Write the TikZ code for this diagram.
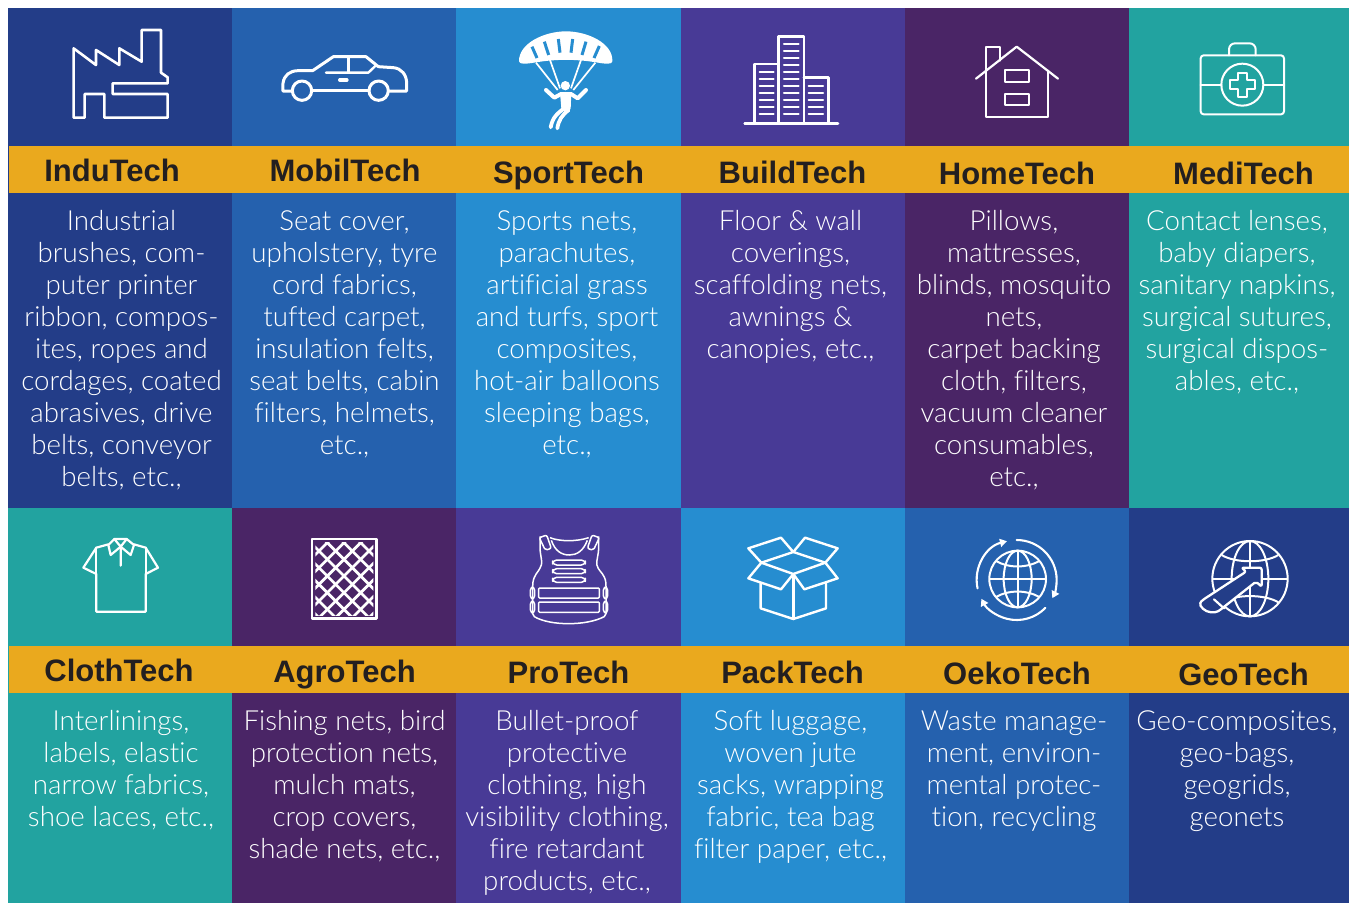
\documentclass[tikz,border=0pt]{standalone}
\usepackage{fontspec}
\usetikzlibrary{arrows.meta}
\setmainfont{Liberation Sans}
\newfontfamily\bodyfont{Lato Light}[Ligatures=NoCommon]
\newfontfamily\titlefont{Liberation Sans}[BoldFont={Liberation Sans Bold}]
\definecolor{cnavy}{HTML}{233D88}
\definecolor{cblue}{HTML}{2561AE}
\definecolor{csky}{HTML}{268DD0}
\definecolor{cindigo}{HTML}{483A96}
\definecolor{cpurple}{HTML}{4A2566}
\definecolor{cteal}{HTML}{22A3A0}
\definecolor{cgold}{HTML}{EAA91E}
\definecolor{cink}{HTML}{231F20}
\tikzset{
  titlelabel/.style={anchor=base,inner sep=0pt,text=cink,font=\titlefont\bfseries\fontsize{31}{31}\selectfont},
  bodylabel/.style={anchor=north,inner sep=0pt,text=white,align=center,font=\bodyfont\fontsize{27.7}{32}\selectfont},
  ico/.style={draw=white,line width=#1,line join=round,line cap=round},
  ico/.default=2.6pt
}
\newcommand{\fl}{\rule{0pt}{20pt}}
\begin{document}
\begin{tikzpicture}[x=1pt,y=-1pt]
\useasboundingbox (0,0) rectangle (1349,903);
% panels
\fill[cnavy] (8,8) rectangle (232,508);
\fill[cblue] (232,8) rectangle (456,508);
\fill[csky] (456,8) rectangle (681,508);
\fill[cindigo] (681,8) rectangle (905,508);
\fill[cpurple] (905,8) rectangle (1129,508);
\fill[cteal] (1129,8) rectangle (1349,508);
\fill[cteal] (8,508) rectangle (232,903);
\fill[cpurple] (232,508) rectangle (456,903);
\fill[cindigo] (456,508) rectangle (681,903);
\fill[csky] (681,508) rectangle (905,903);
\fill[cblue] (905,508) rectangle (1129,903);
\fill[cnavy] (1129,508) rectangle (1349,903);
\fill[cgold] (9,146) rectangle (1349,193);
\fill[cgold] (9,646) rectangle (1349,693);
% titles
\node[titlelabel] (t1) at (112,181) {InduTech};
\node[titlelabel] (t2) at (345,181) {MobilTech};
\node[titlelabel] (t3) at (568.5,183) {SportTech};
\node[titlelabel] (t4) at (792.5,183) {BuildTech};
\node[titlelabel] (t5) at (1017,184) {HomeTech};
\node[titlelabel] (t6) at (1243.5,184) {MediTech};
\node[titlelabel] (t7) at (119,681) {ClothTech};
\node[titlelabel] (t8) at (344.5,682) {AgroTech};
\node[titlelabel] (t9) at (568.5,683) {ProTech};
\node[titlelabel] (t10) at (792.5,683) {PackTech};
\node[titlelabel] (t11) at (1017,684) {OekoTech};
\node[titlelabel] (t12) at (1243.5,685) {GeoTech};
% bodies
\node[bodylabel] (b1) at (121.5,210.5) {\fl Industrial\\brushes, com-\\puter printer\\ribbon, compos-\\ites, ropes and\\cordages, coated\\abrasives, drive\\belts, conveyor\\belts, etc.,};
\node[bodylabel] (b2) at (344.5,210.5) {\fl Seat cover,\\upholstery, tyre\\cord fabrics,\\tufted carpet,\\insulation felts,\\seat belts, cabin\\filters, helmets,\\etc.,};
\node[bodylabel] (b3) at (567,210.5) {\fl Sports nets,\\parachutes,\\artificial grass\\and turfs, sport\\composites,\\hot-air balloons\\sleeping bags,\\etc.,};
\node[bodylabel] (b4) at (790.5,210.5) {\fl Floor \& wall\\coverings,\\scaffolding nets,\\awnings \&\\canopies, etc.,};
\node[bodylabel] (b5) at (1014,210.5) {\fl Pillows,\\mattresses,\\blinds, mosquito\\nets,\\carpet backing\\cloth, filters,\\vacuum cleaner\\consumables,\\etc.,};
\node[bodylabel] (b6) at (1237,210.5) {\fl Contact lenses,\\baby diapers,\\sanitary napkins,\\surgical sutures,\\surgical dispos-\\ables, etc.,};
\node[bodylabel] (b7) at (121,710.5) {\fl Interlinings,\\labels, elastic\\narrow fabrics,\\shoe laces, etc.,};
\node[bodylabel] (b8) at (344.5,710.5) {\fl Fishing nets, bird\\protection nets,\\mulch mats,\\crop covers,\\shade nets, etc.,};
\node[bodylabel] (b9) at (567,710.5) {\fl Bullet-proof\\protective\\clothing, high\\visibility clothing,\\fire retardant\\products, etc.,};
\node[bodylabel] (b10) at (790.5,710.5) {\fl Soft luggage,\\woven jute\\sacks, wrapping\\fabric, tea bag\\filter paper, etc.,};
\node[bodylabel] (b11) at (1014,710.5) {\fl Waste manage-\\ment, environ-\\mental protec-\\tion, recycling};
\node[bodylabel] (b12) at (1237,710.5) {\fl Geo-composites,\\geo-bags,\\geogrids,\\geonets};
% factory
\begin{scope}[shift={(0,0)},scale=1/3]
\draw[ico] (221,145)--(288,195)--(288,150)--(358,195)--(358,145)--(425,185)--(425,90)--(483,90)--(483,218)--(503,232)--(503,250)--(338,250)--(338,282)--(503,282)--(503,353)--(313,353)--(313,282)--(254,282)--(254,353)--(221,353)--cycle;
% car
\draw[ico=3pt] (875,273)--(849,273)--(849,250) .. controls (852,225) and (870,212) .. (895,212)--(938,212)--(1000,170)--(1098,170)--(1135,200)--(1180,203) .. controls (1205,205) and (1220,225) .. (1220,250)--(1220,273)--(1165,273);
\draw[ico=3pt] (1107,271)--(937,271);
\draw[ico=3pt] (906,272) circle[radius=29];
\draw[ico=3pt] (1136,272) circle[radius=29];
\draw[ico=2.4pt] (978,218)--(1105,218)--(1127,197);
\draw[ico=2.4pt] (1045,172)--(1045,218);
\draw[ico=3.2pt] (1019,240)--(1041,240);
\end{scope}
% parachute, buildings
\begin{scope}[shift={(456,0)},scale=1/3]
\fill[white] (189,184) .. controls (188,130) and (265,94) .. (330,94) .. controls (395,94) and (472,130) .. (469,184) .. controls (468,194) and (450,192) .. (420,187) .. controls (360,177) and (300,177) .. (240,187) .. controls (210,192) and (190,194) .. (189,184) -- cycle;
\foreach \xa/\ya/\xb/\yb in {228/140/243/174,265/125/278/165,307/117/312/158,350/117/345/158,390/125/378/165,430/138/414/174}
  \draw[csky,line width=3pt] (\xa,\ya)--(\xb,\yb);
\foreach \xa/\ya/\xb/\yb in {240/188/305/270,282/180/312/265,375/180/345/265,418/188/352/270}
  \draw[white,line width=1.7pt] (\xa,\ya)--(\xb,\yb);
\fill[white] (328,257) circle[radius=14];
\draw[ico=4pt] (270,270)--(295,293)--(315,282)--(345,282)--(365,295)--(390,270);
\fill[white] (312,278)--(346,278)--(344,325)--(330,340)--(316,325)--cycle;
\draw[ico=3.8pt] (328,322) .. controls (305,340) and (290,350) .. (284,382);
\draw[ico=3.8pt] (338,330) .. controls (318,345) and (308,360) .. (304,385);
\draw[ico] (866,371)--(1146,371);
\draw[ico] (895,371)--(895,192)--(968,192);
\draw[ico] (968,371)--(968,110)--(1044,110)--(1044,371);
\draw[ico] (1044,233)--(1117,233)--(1117,371);
\foreach \y in {215,236,...,341} \draw[ico=2.1pt] (911,\y)--(953,\y);
\foreach \y in {131,152,...,341} \draw[ico=2.1pt] (984,\y)--(1028,\y);
\foreach \y in {257,278,...,341} \draw[ico=2.1pt] (1058,\y)--(1101,\y);
\end{scope}
% house, medkit
\begin{scope}[shift={(900,0)},scale=1/3]
\draw[ico=2.2pt] (228,236)--(350,140)--(474,236);
\draw[ico=2.2pt] (258,212)--(258,352)--(445,352)--(445,212);
\draw[ico=2.2pt] (258,212)--(258,140)--(299,140)--(299,182);
\draw[ico=2.2pt] (315,211) rectangle (388,247);
\draw[ico=2.2pt] (315,281) rectangle (388,316);
\draw[ico=2pt,rounded corners=3pt] (902,166) rectangle (1152,343);
\draw[ico=2pt,rounded corners=6pt] (987,166)--(987,130)--(1067,130)--(1067,166);
\draw[ico=2pt] (902,254)--(965,254) (1090,254)--(1152,254);
\draw[ico=2pt] (1027,254) circle[radius=63];
\draw[ico=2pt] (1014,218)--(1040,218)--(1040,241)--(1065,241)--(1065,267)--(1040,267)--(1040,291)--(1014,291)--(1014,267)--(990,267)--(990,241)--(1014,241)--cycle;
\end{scope}
% shirt, net
\begin{scope}[shift={(0,500)},scale=1/3]
\draw[ico=2.2pt] (325,133)--(289,143)--(250,203)--(289,222)--(289,335)--(437,335)--(437,222)--(474,203)--(437,143)--(402,133);
\draw[ico=2.2pt] (289,143)--(289,222) (437,143)--(437,222);
\draw[ico=2.2pt] (325,135)--(332,165)--(362,140)--(392,165)--(402,135)--(380,117)--(343,117)--cycle;
\draw[ico=2.2pt] (343,117)--(362,140)--(380,117) (362,140)--(362,197);
\draw[ico=2.4pt] (936,117) rectangle (1130,356);
\begin{scope}
\clip (946,126) rectangle (1120,347);
\foreach \s in {1110,1160,...,1460} \draw[white,line width=2.7pt] (\s-1130,1130)--(\s-100,100);
\foreach \s in {-1004,-954,...,-604} \draw[white,line width=2.7pt] (900,900+\s)--(1150,1150+\s);
\end{scope}
\end{scope}
% vest, box
\begin{scope}[shift={(456,500)},scale=1/3]
\begin{scope}[shift={(192,75)}]
\tikzset{vst/.style={draw=white,line width=1.5pt,line join=round}}
\draw[vst,rounded corners=2pt] (60,34)--(60,60) .. controls (60,90) and (68,110) .. (62,125) .. controls (55,140) and (42,150) .. (38,178)--(38,272) .. controls (90,303) and (200,303) .. (258,272)--(258,178) .. controls (255,150) and (240,140) .. (232,125) .. controls (228,110) and (236,90) .. (236,60)--(236,34);
\draw[vst,rounded corners=2pt] (58,38)--(80,30)--(94,70)--(76,76)--cycle;
\draw[vst,rounded corners=2pt] (238,38)--(216,30)--(202,70)--(220,76)--cycle;
\draw[vst] (90,38) .. controls (120,50) and (170,50) .. (206,38);
\draw[vst] (94,46) .. controls (105,78) and (125,90) .. (148,90) .. controls (170,90) and (190,78) .. (202,46);
\draw[vst,rounded corners=4pt] (98,105) rectangle (196,120);
\draw[vst,rounded corners=4pt] (98,131) rectangle (196,146);
\draw[vst,rounded corners=4pt] (98,157) rectangle (196,172);
\draw[vst,rounded corners=1pt] (56,189) rectangle (238,219);
\draw[vst,rounded corners=1pt] (56,231) rectangle (238,262);
\draw[vst,rounded corners=3pt] (31,187) rectangle (44,221);
\draw[vst,rounded corners=3pt] (31,229) rectangle (44,263);
\draw[vst,rounded corners=3pt] (250,187) rectangle (263,221);
\draw[vst,rounded corners=3pt] (250,229) rectangle (263,263);
\end{scope}
\draw[ico=2.4pt] (877,145)--(975,113)--(1012,156)--(916,188)--cycle;
\draw[ico=2.4pt] (1012,156)--(1047,113)--(1145,145)--(1108,188)--cycle;
\draw[ico=2.4pt] (916,188)--(1012,222)--(1108,188);
\draw[ico=2.4pt] (916,188)--(877,235)--(975,268)--(1012,222)--(1045,268)--(1145,235)--(1108,188);
\draw[ico=2.4pt] (914,250)--(914,325)--(1012,357)--(1110,325)--(1110,250);
\draw[ico=2.4pt] (1012,222)--(1012,357);
\end{scope}
% globes
\begin{scope}[shift={(900,500)},scale=1/3]
\tikzset{glb/.style={draw=white,line width=2pt}}
\draw[glb] (353,237) circle[radius=85];
\draw[glb] (353,237) ellipse[x radius=42,y radius=85];
\draw[glb] (353,152)--(353,322) (268,237)--(438,237);
\draw[glb] (288,183) .. controls (325,205) and (380,205) .. (418,183);
\draw[glb] (288,291) .. controls (325,269) and (380,269) .. (418,291);
\draw[ico=2.1pt,-{Triangle[length=7pt,width=8pt]}] ([shift={(350,240)}]168:120) arc[start angle=168,end angle=256,radius=120];
\draw[ico=2.1pt,-{Triangle[length=7pt,width=8pt]}] ([shift={(350,240)}]270:120) arc[start angle=270,end angle=387,radius=120];
\draw[ico=2.1pt,-{Triangle[length=7pt,width=8pt]}] ([shift={(350,240)}]44:120) arc[start angle=44,end angle=152,radius=120];
\draw[glb] (1050,236) circle[radius=113];
\draw[glb] (1050,236) ellipse[x radius=55,y radius=113];
\draw[glb] (1050,123)--(1050,349) (937,236)--(1163,236);
\draw[glb] (965,165) .. controls (1005,190) and (1095,190) .. (1135,165);
\draw[glb] (965,307) .. controls (1005,282) and (1095,282) .. (1135,307);
\draw[ico=2.3pt,fill=cnavy,rounded corners=2pt] (1025,203)--(1085,203)--(1085,260)--(1068,245)--(960,330) .. controls (945,340) and (920,338) .. (905,322) .. controls (898,312) and (903,305) .. (908,300)--(1038,215)--cycle;
\draw[ico=2.2pt] (942,298)--(972,325);
\end{scope}
\end{tikzpicture}
\end{document}
